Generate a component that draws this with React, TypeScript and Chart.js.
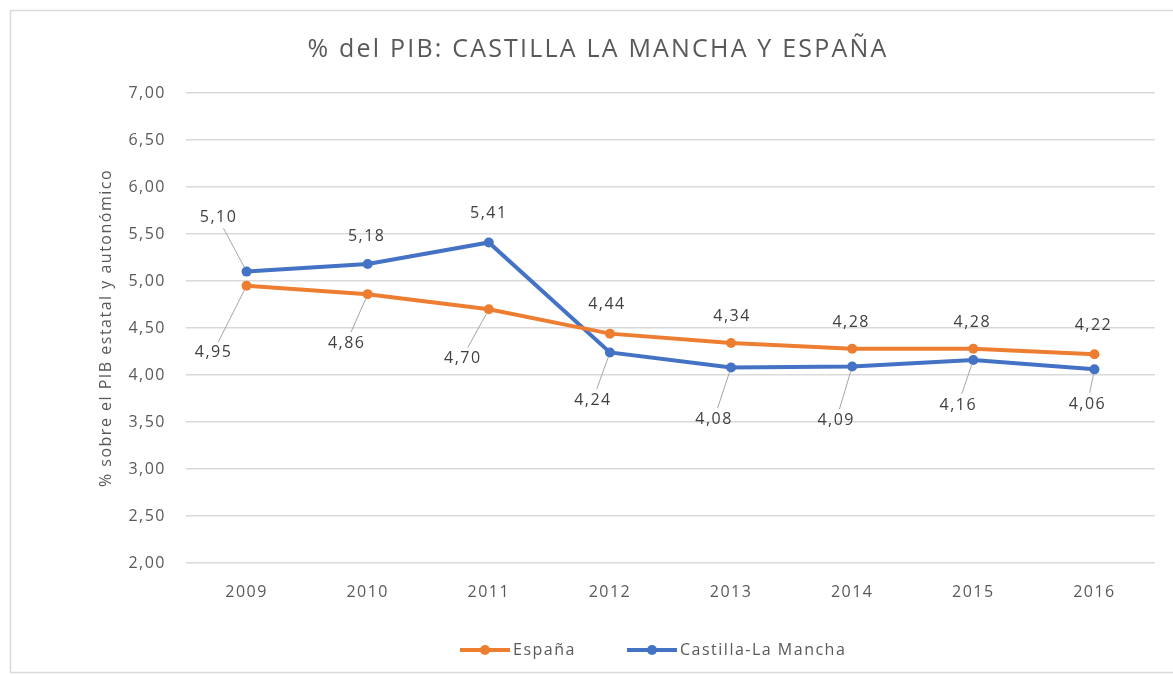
import React, { useEffect, useRef } from "react";
import { Chart, registerables } from "chart.js";

Chart.register(...registerables);

const categories = ["2009", "2010", "2011", "2012", "2013", "2014", "2015", "2016"];
const espana = [4.95, 4.86, 4.7, 4.44, 4.34, 4.28, 4.28, 4.22];
const castilla = [5.1, 5.18, 5.41, 4.24, 4.08, 4.09, 4.16, 4.06];
const seriesNames = ["España", "Castilla-La Mancha"];
const titleText = "% del PIB: CASTILLA LA MANCHA Y ESPAÑA";
const yTitle = "% sobre el PIB estatal y autonómico";

// label offsets (dx, dy) relative to each point, in px
const espanaLabelOffsets: [number, number][] = [
  [-33, 67], [-21, 49], [-26, 49], [-3, -29], [1, -27], [-1, -26], [-1, -26], [-1, -29],
];
const castillaLabelOffsets: [number, number][] = [
  [-28, -54], [-1, -28], [0, -29], [-17, 48], [-17, 52], [-16, 54], [-15, 45], [-7, 35],
];

const ORANGE = "#ED7D31";
const BLUE = "#4472C4";
const FONT = "'Open Sans', 'Liberation Sans', sans-serif";
const TEXT = "#595959";
const SPACING = "1.5px";

const fmt = (v: number) => v.toFixed(2).replace(".", ",");

export default function App() {
  const ref = useRef<HTMLCanvasElement>(null);
  useEffect(() => {
    document.body.style.margin = "0";
    const offsets = [espanaLabelOffsets, castillaLabelOffsets];
    const deco = {
      id: "deco",
      beforeDraw(chart: any) {
        const ctx = chart.ctx;
        ctx.letterSpacing = SPACING;
        ctx.save();
        ctx.fillStyle = "#fff";
        ctx.fillRect(0, 0, chart.width, chart.height);
        ctx.strokeStyle = "#d9d9d9";
        ctx.lineWidth = 1.5;
        ctx.strokeRect(10.5, 10.5, chart.width + 20, chart.height - 13);
        ctx.fillStyle = TEXT;
        ctx.font = `25px ${FONT}`;
        ctx.letterSpacing = "2.2px";
        ctx.textAlign = "center";
        ctx.textBaseline = "middle";
        ctx.fillText(titleText, 598, 50);
        ctx.restore();
      },
      afterDatasetsDraw(chart: any) {
        const ctx = chart.ctx;
        ctx.save();
        ctx.letterSpacing = SPACING;
        ctx.font = `16px ${FONT}`;
        ctx.textAlign = "center";
        ctx.textBaseline = "middle";
        chart.data.datasets.forEach((ds: any, di: number) => {
          const meta = chart.getDatasetMeta(di);
          meta.data.forEach((pt: any, i: number) => {
            const [dx, dy] = offsets[di][i];
            const lx = pt.x + dx;
            const ly = pt.y + dy;
            const dist = Math.hypot(dx, dy);
            if (dist > 32) {
              const ux = dx / dist, uy = dy / dist;
              const sx = pt.x + ux * 5;
              const sy = pt.y + uy * 5;
              const ex = lx - ux * 12 * Math.max(Math.abs(ux) * 1.6, Math.abs(uy));
              const ey = ly - uy * 12;
              ctx.strokeStyle = "#a6a6a6";
              ctx.lineWidth = 1;
              ctx.beginPath();
              ctx.moveTo(sx, sy);
              ctx.lineTo(ex, ey);
              ctx.stroke();
            }
            ctx.fillStyle = "#404040";
            ctx.fillText(fmt(ds.data[i]), lx, ly);
          });
        });
        ctx.restore();
      },
      afterDraw(chart: any) {
        const ctx = chart.ctx;
        ctx.save();
        ctx.letterSpacing = SPACING;
        const items = [
          { x: 460, color: ORANGE, name: seriesNames[0] },
          { x: 627, color: BLUE, name: seriesNames[1] },
        ];
        const y = 650;
        ctx.font = `16px ${FONT}`;
        ctx.textBaseline = "middle";
        ctx.textAlign = "left";
        items.forEach((it) => {
          ctx.strokeStyle = it.color;
          ctx.lineWidth = 4;
          ctx.beginPath();
          ctx.moveTo(it.x, y);
          ctx.lineTo(it.x + 50, y);
          ctx.stroke();
          ctx.fillStyle = it.color;
          ctx.beginPath();
          ctx.arc(it.x + 25, y, 5, 0, Math.PI * 2);
          ctx.fill();
          ctx.fillStyle = TEXT;
          ctx.fillText(it.name, it.x + 53, y);
        });
        ctx.restore();
      },
    };
    const chart = new Chart(ref.current!, {
      type: "line",
      data: {
        labels: categories,
        datasets: [
          {
            label: seriesNames[0],
            data: espana,
            borderColor: ORANGE,
            backgroundColor: ORANGE,
            borderWidth: 4,
            pointRadius: 5,
            pointBorderWidth: 0,
            pointBackgroundColor: ORANGE,
            tension: 0,
          },
          {
            label: seriesNames[1],
            data: castilla,
            borderColor: BLUE,
            backgroundColor: BLUE,
            borderWidth: 4,
            pointRadius: 5,
            pointBorderWidth: 0,
            pointBackgroundColor: BLUE,
            tension: 0,
          },
        ],
      },
      options: {
        responsive: false,
        animation: false,
        layout: { padding: { left: 97, right: 18, top: 93, bottom: 62 } },
        plugins: {
          legend: { display: false },
          title: { display: false },
          tooltip: { enabled: false },
        },
        scales: {
          x: {
            offset: true,
            grid: { display: false },
            border: { display: false },
            ticks: { color: TEXT, font: { family: FONT, size: 16 }, padding: 12 },
            afterFit: (s: any) => { s.height = 50; },
          },
          y: {
            min: 2,
            max: 7,
            ticks: {
              stepSize: 0.5,
              color: TEXT,
              font: { family: FONT, size: 16 },
              padding: 20,
              callback: (v: any) => fmt(Number(v)),
            },
            grid: { color: "#d9d9d9", lineWidth: 1.5, drawTicks: false },
            border: { display: false },
            title: {
              display: true,
              text: yTitle,
              color: TEXT,
              font: { family: FONT, size: 16 },
              padding: 0,
            },
            afterFit: (s: any) => { s.width = 89; },
          },
        },
      },
      plugins: [deco],
    });
    return () => chart.destroy();
  }, []);
  return <canvas ref={ref} width={1173} height={675} style={{ display: "block" }} />;
}
